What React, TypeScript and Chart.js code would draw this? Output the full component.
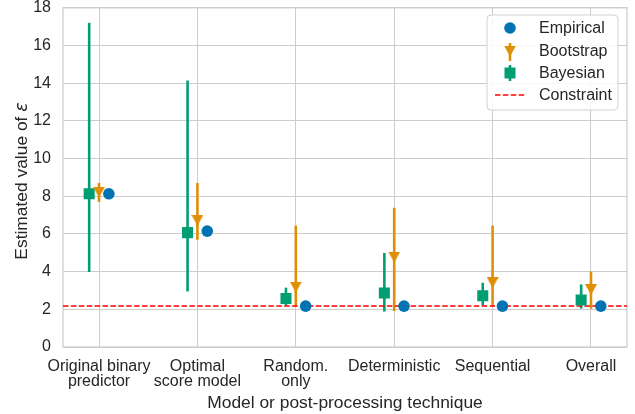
import React, { useEffect, useRef } from "react";
import { Chart, registerables } from "chart.js";

Chart.register(...registerables);

// ---- data ----
const categories: string[][] = [
  ["Original binary", "predictor"],
  ["Optimal", "score model"],
  ["Random.", "only"],
  ["Deterministic"],
  ["Sequential"],
  ["Overall"],
];
const empirical = [8.13, 6.15, 2.17, 2.17, 2.17, 2.17];
const bootstrap = [8.22, 6.72, 3.18, 4.77, 3.42, 3.05];
const bootstrapLow = [7.7, 5.69, 2.16, 1.91, 2.16, 2.03];
const bootstrapHigh = [8.7, 8.7, 6.44, 7.39, 6.44, 4.01];
const bayesian = [8.13, 6.07, 2.57, 2.87, 2.72, 2.49];
const bayesianLow = [3.98, 2.95, 2.21, 1.88, 2.21, 2.04];
const bayesianHigh = [17.2, 14.14, 3.15, 4.99, 3.41, 3.32];
const constraint = 2.18;
const yTicks = [0, 2, 4, 6, 8, 10, 12, 14, 16, 18];
const seriesNames = ["Empirical", "Bootstrap", "Bayesian", "Constraint"];
const xLabel = "Model or post-processing technique";
const yLabel = "Estimated value of ";
const yLabelSymbol = "ε";

const X_MIN = -0.366;
const X_MAX = categories.length - 1 + 0.366;
const DODGE = 0.1;

const BLUE = "#0173b2";
const ORANGE = "#de8f05";
const GREEN = "#029e73";
const RED = "#ff0000";
const TEXT = "#262626";
const GRID = "#cccccc";
const FONT = '"Liberation Sans", Arial, Helvetica, sans-serif';

function makeTriangle(color: string, w: number, h: number): HTMLCanvasElement {
  const c = document.createElement("canvas");
  c.width = w;
  c.height = h;
  const g = c.getContext("2d")!;
  g.fillStyle = color;
  g.beginPath();
  g.moveTo(0, 0);
  g.lineTo(w, 0);
  g.lineTo(w / 2, h);
  g.closePath();
  g.fill();
  return c;
}

export default function App() {
  const ref = useRef<HTMLCanvasElement>(null);

  useEffect(() => {
    if (!ref.current) return;
    const tri = makeTriangle(ORANGE, 12, 11);

    const errorBars = {
      id: "errorBars",
      beforeDatasetsDraw(chart: any) {
        const { ctx, scales } = chart;
        const x = scales.x;
        const y = scales.y;
        const area = chart.chartArea;
        ctx.save();
        ctx.strokeStyle = GRID;
        ctx.lineWidth = 1.25;
        ctx.strokeRect(area.left, area.top, area.right - area.left, area.bottom - area.top);
        ctx.restore();
        chart.data.datasets.forEach((ds: any) => {
          if (!ds.errLow) return;
          ctx.save();
          ctx.strokeStyle = ds.errColor;
          ctx.lineWidth = 2.6;
          ds.data.forEach((p: any, j: number) => {
            const px = x.getPixelForValue(p.x);
            ctx.beginPath();
            ctx.moveTo(px, y.getPixelForValue(ds.errLow[j]));
            ctx.lineTo(px, y.getPixelForValue(ds.errHigh[j]));
            ctx.stroke();
          });
          ctx.restore();
        });
      },
    };

    const decorations = {
      id: "decorations",
      afterDraw(chart: any) {
        const { ctx, chartArea: a } = chart;
        ctx.save();
        ctx.fillStyle = TEXT;
        ctx.font = `17.4px ${FONT}`;
        ctx.textAlign = "center";
        ctx.textBaseline = "alphabetic";
        ctx.fillText(xLabel, (a.left + a.right) / 2, 408);
        ctx.save();
        ctx.translate(26.5, 181);
        ctx.rotate(-Math.PI / 2);
        ctx.font = `17.4px ${FONT}`;
        const w1 = ctx.measureText(yLabel).width;
        ctx.font = `italic 17.4px "DejaVu Sans", ${FONT}`;
        const w2 = ctx.measureText(yLabelSymbol).width;
        const start = -(w1 + w2) / 2;
        ctx.textAlign = "left";
        ctx.font = `17.4px ${FONT}`;
        ctx.fillText(yLabel, start, 0);
        ctx.font = `italic 17.4px "DejaVu Sans", ${FONT}`;
        ctx.fillText(yLabelSymbol, start + w1, 0);
        ctx.restore();

        const bx = 487, by = 15, bw = 131, bh = 95;
        ctx.beginPath();
        ctx.roundRect(bx, by, bw, bh, 4);
        ctx.fillStyle = "rgba(255,255,255,0.85)";
        ctx.fill();
        ctx.strokeStyle = "rgba(204,204,204,0.9)";
        ctx.lineWidth = 1;
        ctx.stroke();

        const mx = 510;
        const rows = [28, 51, 73, 95];
        ctx.fillStyle = BLUE;
        ctx.beginPath();
        ctx.arc(mx, rows[0], 5.8, 0, Math.PI * 2);
        ctx.fill();
        ctx.strokeStyle = ORANGE;
        ctx.lineWidth = 2.6;
        ctx.beginPath();
        ctx.moveTo(mx, rows[1] - 8);
        ctx.lineTo(mx, rows[1] + 10);
        ctx.stroke();
        ctx.drawImage(tri, mx - 6, rows[1] - 5.5);
        ctx.strokeStyle = GREEN;
        ctx.beginPath();
        ctx.moveTo(mx, rows[2] - 8);
        ctx.lineTo(mx, rows[2] + 8);
        ctx.stroke();
        ctx.fillStyle = GREEN;
        ctx.fillRect(mx - 5.5, rows[2] - 5.5, 11, 11);
        ctx.strokeStyle = RED;
        ctx.lineWidth = 1.5;
        ctx.setLineDash([5.5, 2.4]);
        ctx.beginPath();
        ctx.moveTo(mx - 15, rows[3]);
        ctx.lineTo(mx + 15, rows[3]);
        ctx.stroke();
        ctx.setLineDash([]);

        ctx.fillStyle = TEXT;
        ctx.font = `16px ${FONT}`;
        ctx.textAlign = "left";
        ctx.textBaseline = "middle";
        seriesNames.forEach((n, i) => ctx.fillText(n, 539, rows[i] + 1));
        ctx.restore();
      },
    };

    const chart = new Chart(ref.current, {
      type: "scatter",
      data: {
        datasets: [
          {
            label: seriesNames[3],
            type: "line",
            data: [
              { x: X_MIN, y: constraint },
              { x: X_MAX, y: constraint },
            ],
            borderColor: RED,
            borderWidth: 1.5,
            borderDash: [5.5, 2.4],
            pointRadius: 0,
            fill: false,
            order: 10,
          } as any,
          {
            label: seriesNames[2],
            data: bayesian.map((v, i) => ({ x: i - DODGE, y: v })),
            errLow: bayesianLow,
            errHigh: bayesianHigh,
            errColor: GREEN,
            backgroundColor: GREEN,
            borderColor: GREEN,
            borderWidth: 0,
            pointStyle: "rect",
            pointRadius: 7.8,
            order: 3,
          } as any,
          {
            label: seriesNames[1],
            data: bootstrap.map((v, i) => ({ x: i, y: v })),
            errLow: bootstrapLow,
            errHigh: bootstrapHigh,
            errColor: ORANGE,
            backgroundColor: ORANGE,
            borderColor: ORANGE,
            pointStyle: tri,
            pointRadius: 6,
            order: 2,
          } as any,
          {
            label: seriesNames[0],
            data: empirical.map((v, i) => ({ x: i + DODGE, y: v })),
            backgroundColor: BLUE,
            borderColor: BLUE,
            borderWidth: 0,
            pointStyle: "circle",
            pointRadius: 5.8,
            order: 1,
          } as any,
        ],
      },
      options: {
        responsive: false,
        animation: false,
        events: [],
        layout: { padding: { top: 7, right: 8, left: 0, bottom: 0 } },
        plugins: {
          legend: { display: false },
          tooltip: { enabled: false },
          title: { display: false },
        },
        scales: {
          x: {
            type: "linear",
            min: X_MIN,
            max: X_MAX,
            afterBuildTicks: (s: any) => {
              s.ticks = categories.map((_, i) => ({ value: i }));
            },
            afterFit: (s: any) => {
              s.height = 67;
              s.paddingLeft = 0;
              s.paddingRight = 0;
            },
            ticks: {
              callback: (v: any) => categories[Math.round(Number(v))] ?? "",
              autoSkip: false,
              maxRotation: 0,
              minRotation: 0,
              padding: 12,
              color: TEXT,
              font: { family: FONT, size: 16, lineHeight: 0.94 },
            },
            grid: { color: GRID, lineWidth: 1, drawTicks: false },
            border: { display: false },
          },
          y: {
            type: "linear",
            min: 0,
            max: 18,
            afterBuildTicks: (s: any) => {
              s.ticks = yTicks.map((v) => ({ value: v }));
            },
            afterFit: (s: any) => {
              s.width = 63;
              s.paddingTop = 0;
              s.paddingBottom = 0;
            },
            ticks: {
              padding: 12,
              color: TEXT,
              font: { family: FONT, size: 16 },
            },
            grid: { color: GRID, lineWidth: 1, drawTicks: false },
            border: { display: false },
          },
        },
      } as any,
      plugins: [errorBars, decorations],
    });
    return () => chart.destroy();
  }, []);

  return (
    <div style={{ position: "fixed", left: 0, top: 0, width: 635, height: 414, background: "#fff" }}>
      <canvas ref={ref} width={635} height={414} style={{ display: "block", width: 635, height: 414 }} />
    </div>
  );
}
